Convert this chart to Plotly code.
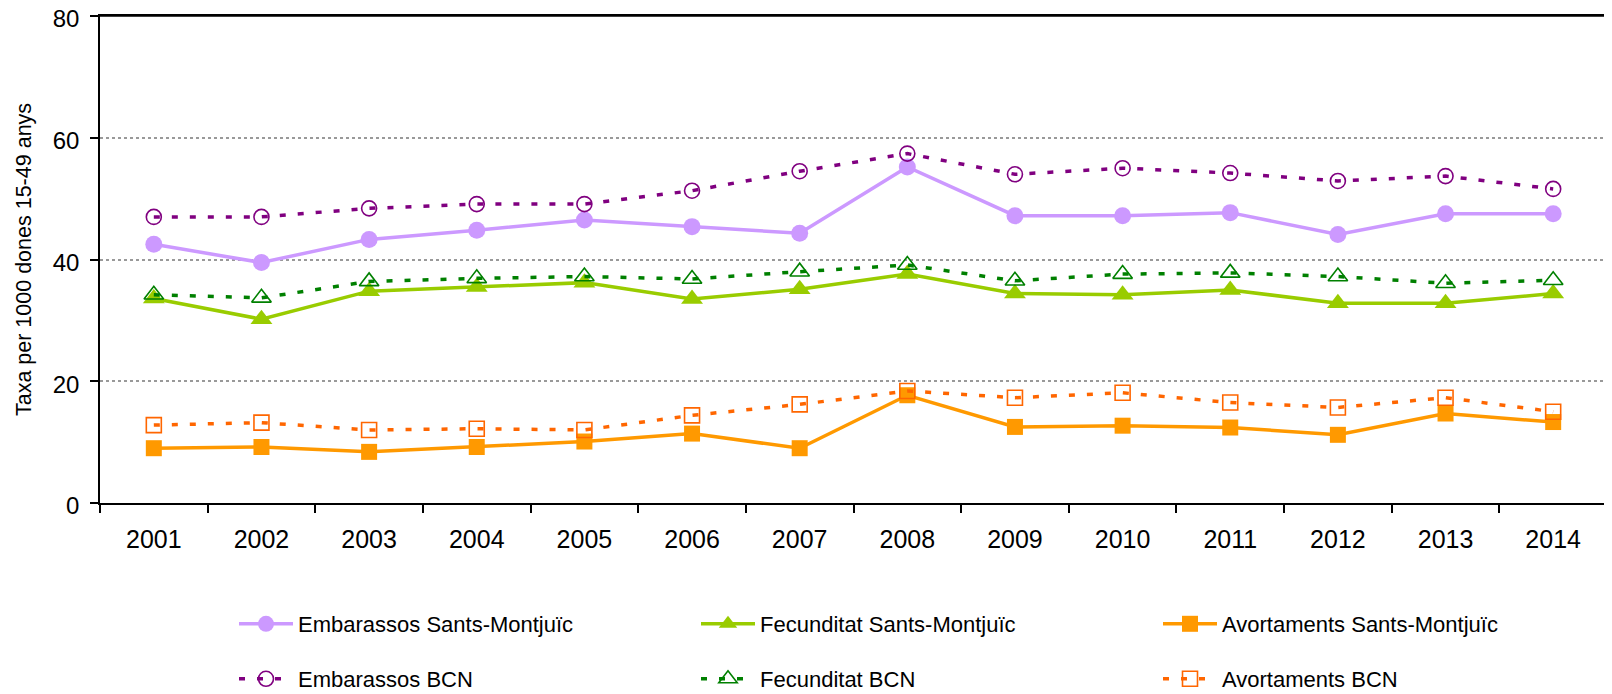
import plotly.graph_objects as go

years = ["2001", "2002", "2003", "2004", "2005", "2006", "2007",
         "2008", "2009", "2010", "2011", "2012", "2013", "2014"]

emb_sm = [42.5, 39.5, 43.3, 44.8, 46.5, 45.4, 44.3, 55.2, 47.2, 47.2, 47.7, 44.1, 47.5, 47.5]
fec_sm = [33.6, 30.2, 34.8, 35.5, 36.2, 33.5, 35.1, 37.6, 34.4, 34.2, 35.0, 32.8, 32.8, 34.4]
av_sm = [9.0, 9.2, 8.4, 9.2, 10.1, 11.4, 9.0, 17.7, 12.5, 12.7, 12.4, 11.2, 14.7, 13.3]
emb_bcn = [47.0, 47.0, 48.4, 49.1, 49.1, 51.3, 54.5, 57.4, 54.0, 55.0, 54.2, 52.9, 53.7, 51.6]
fec_bcn = [34.2, 33.7, 36.4, 36.9, 37.2, 36.8, 38.0, 39.1, 36.5, 37.6, 37.8, 37.2, 36.1, 36.6]
av_bcn = [12.8, 13.2, 12.0, 12.2, 12.0, 14.4, 16.2, 18.4, 17.3, 18.1, 16.5, 15.7, 17.3, 15.0]

FONT = "Arial, 'Liberation Sans', sans-serif"
DASH = "6px,12px"

# page body adds an 8px offset, so the figure is sized to fit the window
W, H = 1604, 686

fig = go.Figure()

def add(name, y, color, symbol, size, dash, legend, mline=0):
    fig.add_trace(go.Scatter(
        x=years, y=y, name=name, mode="lines+markers",
        line=dict(color=color, width=3.5, dash=dash),
        marker=dict(symbol=symbol, size=size, color=color,
                    line=dict(color=color, width=mline)),
        legend=legend,
    ))

add("Embarassos Sants-Montjuïc", emb_sm, "#CC99FF", "circle", 17, "solid", "legend")
add("Fecunditat Sants-Montjuïc", fec_sm, "#99CC00", "triangle-up", 19, "solid", "legend")
add("Avortaments Sants-Montjuïc", av_sm, "#FF9900", "square", 16, "solid", "legend")
add("Embarassos BCN", emb_bcn, "#800080", "circle-open", 15, DASH, "legend2", 1.6)
add("Fecunditat BCN", fec_bcn, "#008000", "triangle-up-open", 17, DASH, "legend2", 1.6)
add("Avortaments BCN", av_bcn, "#FF6600", "square-open", 15, DASH, "legend2", 1.6)

leg_common = dict(orientation="h", xref="container", yref="container",
                  xanchor="left", yanchor="middle",
                  font=dict(family=FONT, size=22, color="black"),
                  itemwidth=54,
                  entrywidth=393, entrywidthmode="pixels",
                  bgcolor="rgba(0,0,0,0)", borderwidth=0)

fig.update_layout(
    width=W, height=H,
    margin=dict(l=92, r=5, t=8, b=191, autoexpand=False),
    paper_bgcolor="white", plot_bgcolor="white",
    font=dict(family=FONT, color="black"),
    legend=dict(x=226/W, y=1 - 616/H, **leg_common),
    legend2=dict(x=226/W, y=1 - 671/H, **leg_common),
    xaxis=dict(
        type="category", range=[-0.5, 13.5], automargin=False,
        showline=True, linecolor="black", linewidth=1.5, mirror=True,
        ticks="outside", tickson="boundaries", ticklen=8, tickcolor="black",
        tickwidth=1.5, tickfont=dict(size=25, family=FONT, color="black"),
        ticklabelstandoff=13, showgrid=False,
    ),
    yaxis=dict(
        range=[0, 80], tickvals=[0, 20, 40, 60, 80], automargin=False,
        showline=True, linecolor="black", linewidth=1.5, mirror=True,
        ticks="outside", ticklen=8, tickcolor="black", tickwidth=1.5,
        tickfont=dict(size=24, family=FONT, color="black"),
        ticklabelstandoff=6, ticklabelshift=3, ticklabeloverflow="allow",
        showgrid=True, gridcolor="#999999", gridwidth=1.5, griddash="dot",
        zeroline=False,
        title=dict(text="Taxa per 1000 dones 15-49 anys",
                   font=dict(size=21.5, family=FONT, color="black"), standoff=15),
    ),
    shapes=[dict(type="line", xref="paper", yref="paper", x0=0, x1=1, y0=1, y1=1,
                 line=dict(color="black", width=1.5), layer="above")],
)

fig.write_html("out.html")
